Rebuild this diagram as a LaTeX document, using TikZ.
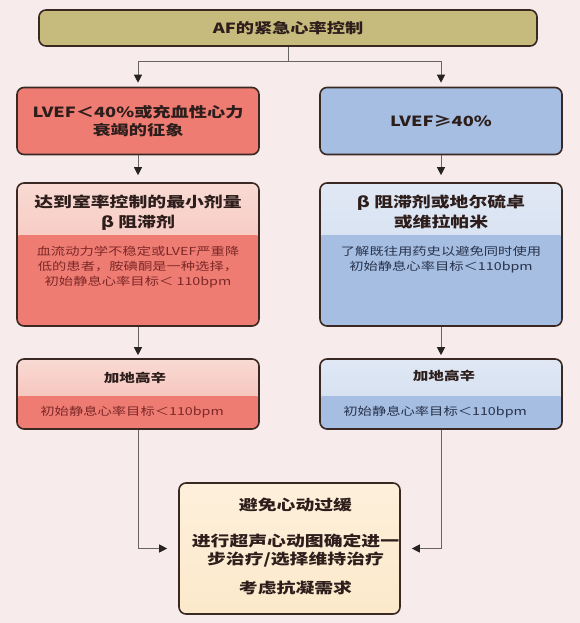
\documentclass[tikz,border=0pt]{standalone}
\usepackage{fontspec}
\setmainfont{Noto Sans CJK SC}[FakeStretch=1.3]
\usepackage{tikz}
\usepackage{xcolor}
\usetikzlibrary{positioning, arrows.meta, calc}
\definecolor{pageBg}{RGB}{247,236,235}
\definecolor{boxLine}{RGB}{58,40,35}
\definecolor{connGray}{RGB}{105,100,100}
\definecolor{tipDark}{RGB}{40,35,35}
\definecolor{inkDark}{RGB}{45,30,28}
\definecolor{redInk}{RGB}{125,40,40}
\definecolor{blueInk}{RGB}{40,50,75}
\definecolor{khaki}{RGB}{198,186,124}
\definecolor{myRed}{RGB}{238,124,114}
\definecolor{myBlue}{RGB}{165,190,226}
\definecolor{redTop}{RGB}{249,218,212}
\definecolor{redMid}{RGB}{243,182,172}
\definecolor{blueTop}{RGB}{224,232,244}
\definecolor{blueMid}{RGB}{206,219,238}
\definecolor{cream}{RGB}{252,233,203}
\colorlet{redBand}{myRed}
\colorlet{blueBand}{myBlue}

\begin{document}
\begin{tikzpicture}[
  x=1pt, y=-1pt,
  >={Triangle[width=8pt, length=8pt, color=tipDark]},
  flowbox/.style={draw=boxLine, line width=1.6pt, rounded corners=7pt,
                  minimum width=242pt, inner sep=0pt, align=center, text=inkDark},
  conn/.style={->, draw=connGray, line width=1pt},
  headtext/.style={align=center, inner sep=0pt, text=inkDark,
                   font=\fontsize{14.5}{20}\selectfont\bfseries},
  bodytext/.style={align=center, inner sep=0pt, font=\fontsize{11}{15}\selectfont},
]
  \fill[pageBg] (0,0) rectangle (580,623);
  \useasboundingbox (0,0) rectangle (580,623);

  % Title
  \node[flowbox, minimum width=498pt, minimum height=36pt, fill=khaki,
        font=\fontsize{14}{17}\selectfont\bfseries] (hrTitle) at (288,28) {AF的紧急心率控制};

  % First split
  \node[flowbox, minimum height=67pt, fill=myRed, font=\fontsize{14}{18}\selectfont\bfseries]
    (lowEF) at (138,121) {LVEF＜40\%或充血性心力\\衰竭的征象};
  \node[flowbox, minimum height=67pt, fill=myBlue, font=\fontsize{14}{18}\selectfont\bfseries]
    (highEF) at (441,121) {LVEF≥40\%};

  % Rate control drugs
  \node[flowbox, minimum height=143pt, top color=redTop, bottom color=redMid,
        path picture={\fill[redBand, rounded corners=3pt]
          ([yshift=-52pt]path picture bounding box.north west) rectangle
          (path picture bounding box.south east);}]
    (lowBeta) at (138,254.5) {};
  \node[flowbox, minimum height=143pt, top color=blueTop, bottom color=blueMid,
        path picture={\fill[blueBand, rounded corners=3pt]
          ([yshift=-52pt]path picture bounding box.north west) rectangle
          (path picture bounding box.south east);}]
    (highBeta) at (441,254.5) {};
  \node[headtext] (lowBetaHead) at ($(lowBeta.north)+(0,30)$)
    {达到室率控制的最小剂量\\β 阻滞剂};
  \node[headtext] (highBetaHead) at ($(highBeta.north)+(0,30)$)
    {β 阻滞剂或地尔硫卓\\或维拉帕米};
  \node[bodytext, text=redInk, below=64pt of lowBeta.north] (lowBetaBody)
    {血流动力学不稳定或LVEF严重降\\低的患者，胺碘酮是一种选择，\\初始静息心率目标＜ 110bpm};
  \node[bodytext, text=blueInk, below=64pt of highBeta.north] (highBetaBody)
    {了解既往用药史以避免同时使用\\初始静息心率目标＜110bpm};

  % Digoxin
  \node[flowbox, minimum height=70pt, top color=redTop, bottom color=redMid,
        path picture={\fill[redBand, rounded corners=3pt]
          ([yshift=-37pt]path picture bounding box.north west) rectangle
          (path picture bounding box.south east);}]
    (lowDig) at (138,394) {};
  \node[flowbox, minimum height=70pt, top color=blueTop, bottom color=blueMid,
        path picture={\fill[blueBand, rounded corners=3pt]
          ([yshift=-37pt]path picture bounding box.north west) rectangle
          (path picture bounding box.south east);}]
    (highDig) at (441,394) {};
  \node[headtext, font=\fontsize{12}{15}\selectfont\bfseries] (lowDigHead)
    at ($(lowDig.north)+(-3,20)$) {加地高辛};
  \node[headtext, font=\fontsize{12}{15}\selectfont\bfseries] (highDigHead)
    at ($(highDig.north)+(3,18)$) {加地高辛};
  \node[bodytext, text=redInk, anchor=west] (lowDigBody)
    at ($(lowDig.west)+(24,18)$) {初始静息心率目标＜110bpm};
  \node[bodytext, text=blueInk, anchor=west] (highDigBody)
    at ($(highDig.west)+(24,18)$) {初始静息心率目标＜110bpm};

  % Final step
  \node[flowbox, minimum width=221pt, minimum height=131pt,
        top color=cream!70!white, bottom color=cream] (finalBox) at (289.5,548.5) {};
  \node[headtext, font=\fontsize{14.5}{18}\selectfont\bfseries] (finalText)
    at ($(finalBox.center)+(6,-2)$)
    {避免心动过缓\\[18pt]进行超声心动图确定进一\\步治疗/选择维持治疗\\[11pt]考虑抗凝需求};

  % Connectors
  \coordinate (split) at ($(hrTitle.south)+(0,15)$);
  \draw[conn, shorten >=4pt] (hrTitle.south) -- (split) -| (lowEF.north);
  \draw[conn, shorten >=4pt] (hrTitle.south) -- (split) -| (highEF.north);
  \draw[conn, shorten >=7pt] (lowEF.south) -- (lowBeta.north);
  \draw[conn, shorten >=7pt] (highEF.south) -- (highBeta.north);
  \draw[conn, shorten >=3pt] (lowBeta.south) -- (lowDig.north);
  \draw[conn, shorten >=3pt] (highBeta.south) -- (highDig.north);
  \draw[conn, shorten >=11pt] (lowDig.south) |- (finalBox.west);
  \draw[conn, shorten >=11pt] (highDig.south) |- (finalBox.east);
\end{tikzpicture}
\end{document}
